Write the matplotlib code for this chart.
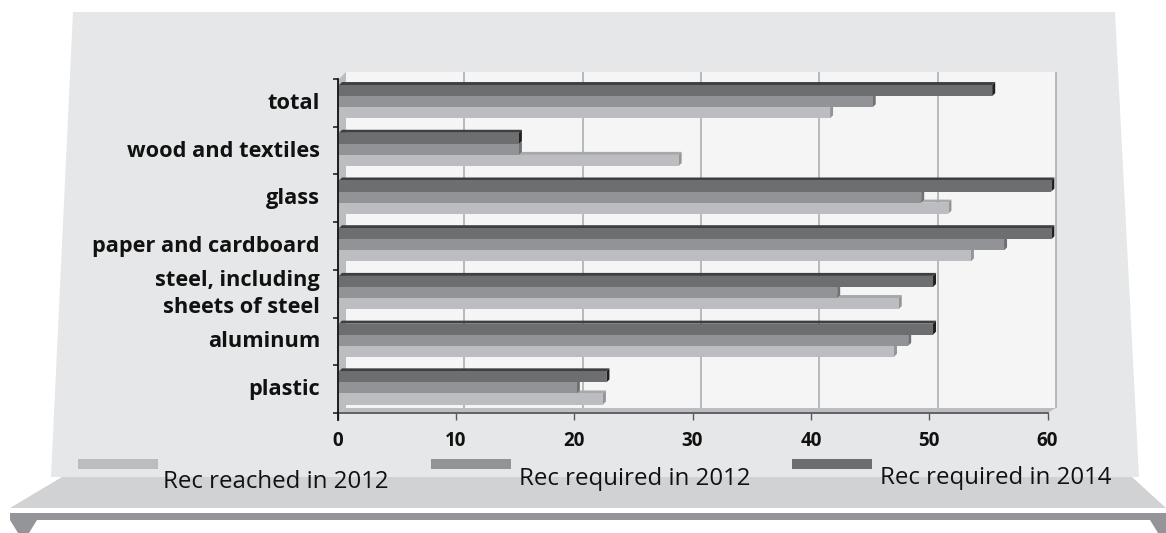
import matplotlib
matplotlib.use("Agg")
import matplotlib.pyplot as plt
from matplotlib.patches import Polygon

categories = ["plastic", "aluminum", "steel, including\nsheets of steel",
              "paper and cardboard", "glass", "wood and textiles", "total"]
reached_2012 = [22.3, 46.9, 47.3, 53.4, 51.5, 28.7, 41.5]
required_2012 = [20.1, 48.1, 42.1, 56.2, 49.2, 15.2, 45.1]
required_2014 = [22.6, 50.2, 50.2, 60.2, 60.2, 15.2, 55.2]
legend_labels = ["Rec reached in 2012", "Rec required in 2012", "Rec required in 2014"]
x_ticks = [0, 10, 20, 30, 40, 50, 60]

W, H = 1166, 533
plt.rcParams["font.family"] = ["Open Sans", "DejaVu Sans"]
fig = plt.figure(figsize=(W / 100, H / 100), dpi=100, facecolor="white")

# page furniture in pixel coordinates
bg = fig.add_axes([0, 0, 1, 1], zorder=0)
bg.set_xlim(0, W)
bg.set_ylim(H, 0)
bg.axis("off")
def poly(pts, color, z=1):
    bg.add_patch(Polygon(pts, closed=True, facecolor=color, edgecolor="none", zorder=z))
poly([(73, 12), (1115, 12), (1139, 477), (51, 477)], "#e6e7e8")
poly([(62, 477), (1132, 477), (1166, 508), (10, 508)], "#d1d2d4", 2)
poly([(10, 513), (1166, 513), (1166, 520), (10, 520)], "#939598", 2)
poly([(10, 520), (37, 520), (29, 533), (18, 533)], "#939598", 2)
poly([(1150, 520), (1166, 520), (1166, 533), (1158, 533)], "#939598", 2)
# chart walls
poly([(346, 72), (1056, 72), (1056, 408), (346, 408)], "#f5f5f5", 3)
poly([(338, 80), (346, 72), (346, 408), (338, 413)], "#bcbdc0", 3)
poly([(338, 413), (346, 408), (1056, 408), (1047.5, 413)], "#bcbdc0", 3)

# main chart
L, R, T, B = 337.5, 1047.5, 79, 413
ax = fig.add_axes([L / W, 1 - B / H, (R - L) / W, (B - T) / H], zorder=2)
ax.patch.set_alpha(0)
ax.set_xlim(0, 60)
ax.set_ylim(-0.5, 6.5)
px_x = 60 / (R - L)
px_y = 7 / (B - T)

wall = 8.5
for t in x_ticks[1:]:
    ax.plot([t + wall * px_x] * 2, [-0.5 + 5 * px_y, 6.5 + 7 * px_y], color="#a7a9ac",
            lw=1.1, clip_on=False, zorder=1, solid_capstyle="butt")

bar_h = 0.232
depth = 3
start = 1.5 * px_x
center_shift = 1.2 * px_y
series = [
    (reached_2012, -bar_h, "#bcbdc0", "#a7a8aa", "#939598"),
    (required_2012, 0, "#929396", "#808184", "#6f7072"),
    (required_2014, bar_h, "#6d6e70", "#3f3f41", "#231f20"),
]
for n, (vals, off, face, top, side) in enumerate(series):
    for i, v in enumerate(vals):
        y = i + off + center_shift
        z = 3 + n
        x0, x1 = start, start + v
        y0, y1 = y - bar_h / 2, y + bar_h / 2
        dx, dy = depth * px_x, depth * px_y
        ax.add_patch(Polygon([(x0, y1), (x1, y1), (x1 + dx, y1 + dy), (x0 + dx, y1 + dy)],
                             facecolor=top, edgecolor="none", zorder=z, clip_on=False))
        ax.add_patch(Polygon([(x1, y0), (x1 + dx, y0 + dy), (x1 + dx, y1 + dy), (x1, y1)],
                             facecolor=side, edgecolor="none", zorder=z, clip_on=False))
        ax.barh(y, v, height=bar_h, left=x0, color=face, zorder=z, clip_on=False)

for s in ("top", "right"):
    ax.spines[s].set_visible(False)
ax.spines["left"].set_color("#111111")
ax.spines["left"].set_linewidth(1.3)
ax.spines["left"].set_bounds(-0.5 - 7 * px_y, 6.5)
ax.spines["left"].set_zorder(8)
ax.spines["bottom"].set_color("#58595b")
ax.spines["bottom"].set_linewidth(1.3)

ax.set_xticks(x_ticks)
ax.set_xticklabels([str(t) for t in x_ticks], fontsize=13.5, fontweight="bold", color="#111111")
ax.tick_params(axis="x", length=5, width=1, color="#58595b", pad=8)
ax.set_yticks([i - 0.5 for i in range(8)])
ax.set_yticklabels([])
ax.tick_params(axis="y", length=3.6, width=1.1, color="#111111")
for i, c in enumerate(categories):
    ax.annotate(c, xy=(0, i), xycoords="data", xytext=(-17.5, -0.5), textcoords="offset pixels",
                ha="right", va="center", fontsize=15.7, fontweight="bold", color="#111111",
                linespacing=1.38, annotation_clip=False)

# legend
swatch_x = [78, 431, 792]
text_x = [163, 519, 880]
text_y = [488, 485, 484]
colors = [series[0][2], series[1][2], series[2][2]]
for sx, tx, ty, col, lab in zip(swatch_x, text_x, text_y, colors, legend_labels):
    bg.add_patch(plt.Rectangle((sx, 459), 80, 10, facecolor=col, edgecolor="none", zorder=4))
    bg.text(tx, ty, lab, fontsize=17.3, color="#111111", ha="left", va="baseline", zorder=5)

fig.savefig("out.png", dpi=100)
